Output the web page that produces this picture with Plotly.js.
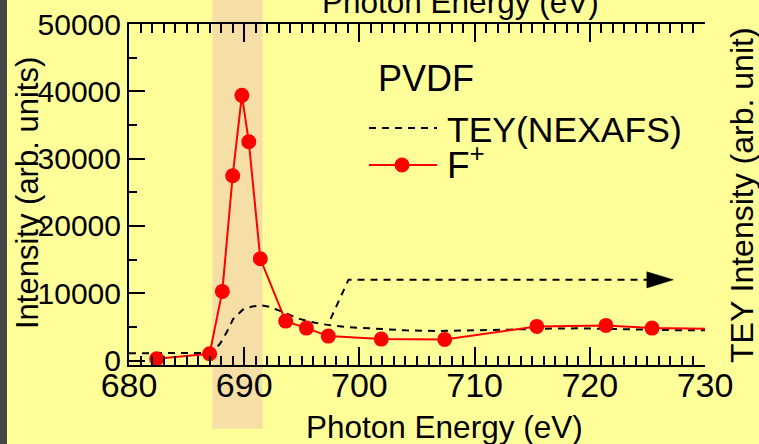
<!DOCTYPE html>
<html>
<head>
<meta charset="utf-8">
<script src="https://cdn.plot.ly/plotly-3.0.1.min.js"></script>
<style>
  html, body { margin: 0; padding: 0; background: #ffff99; }
  #chart { width: 759px; height: 444px; }
</style>
</head>
<body>
<div id="chart"></div>
<script>
// F+ ion yield (left axis, counts)
const energyF = [682.4, 687.0, 688.1, 689.0, 689.8, 690.4, 691.4, 693.6, 695.4, 697.3, 701.9, 707.4, 715.4, 721.4, 725.4, 732.0];
const intensityF = [270, 1010, 10280, 27460, 39400, 32510, 15130, 5870, 4830, 3640, 3200, 3150, 5080, 5230, 4830, 4680];

// Total electron yield NEXAFS spectrum (right axis, arb. units)
const energyTEY = [680, 684, 686.5, 687.3, 687.9, 688.5, 689.05, 689.9, 690.7, 691.5, 692.2, 692.8, 693.8, 694.8, 695.7, 696.6, 697.7, 698.9, 700.3, 701.8, 704, 707, 710, 713, 716, 719, 722, 725, 728, 730];
const teyValues = [1100, 1100, 1150, 1400, 2500, 4300, 6200, 7600, 8050, 8200, 8000, 7600, 6900, 6200, 5800, 5470, 5200, 4980, 4850, 4730, 4500, 4400, 4450, 4600, 4750, 4800, 4700, 4550, 4500, 4500];

// Dashed pointer from the TEY curve toward its axis
const arrowEnergy = [697.5, 699.05, 725.2];
const arrowLevel = [6200, 12000, 12000];
const arrowTip = 727.25;

// Highlighted F 1s resonance window
const bandFrom = 687.23;
const bandTo = 691.6;

const xTickValues = [680, 690, 700, 710, 720, 730];
const xTickText = ['680', '690', '700', '710', '720', '730'];

const FONT = 'Liberation Sans, Arial, Helvetica, sans-serif';
const BG = '#ffff99';

const headLen = 2.3, headHalf = 1200;
const headX = [arrowTip - headLen, arrowTip, arrowTip - headLen, arrowTip - headLen];
const lastY = arrowLevel[arrowLevel.length - 1];
const headY = [lastY + headHalf, lastY, lastY - headHalf, lastY + headHalf];

const traces = [
  {
    x: energyTEY, y: teyValues, type: 'scatter', mode: 'lines',
    line: { color: '#000000', width: 2, dash: '7px,6px' },
    hoverinfo: 'x+y', showlegend: false
  },
  {
    x: arrowEnergy, y: arrowLevel, type: 'scatter', mode: 'lines',
    line: { color: '#000000', width: 2, dash: '7px,6px' },
    hoverinfo: 'skip', showlegend: false
  },
  {
    x: headX, y: headY, type: 'scatter', mode: 'lines', fill: 'toself',
    fillcolor: '#000000', line: { color: '#000000', width: 0.5 },
    hoverinfo: 'skip', showlegend: false
  },
  {
    x: energyF, y: intensityF, type: 'scatter', mode: 'lines+markers',
    line: { color: '#ff0000', width: 2 },
    marker: { color: '#ff0000', size: 15 },
    hoverinfo: 'x+y', showlegend: false
  }
];

// plot area: 129..705 px horizontally, 24..365 px vertically
const px = v => (v - 129) / 576;
const py = v => (365 - v) / 341;

const layout = {
  width: 759, height: 444,
  margin: { l: 129, r: 54, t: 24, b: 79, pad: 0 },
  paper_bgcolor: BG, plot_bgcolor: BG,
  font: { family: FONT, color: '#000000' },
  showlegend: false,
  xaxis: {
    range: [680, 730], showgrid: false, zeroline: false,
    showline: true, linecolor: '#000000', linewidth: 2, mirror: 'ticks',
    ticks: 'inside', ticklen: 18, tickwidth: 2, tickcolor: '#000000',
    tickvals: xTickValues, ticktext: xTickText, ticklabelstandoff: -11,
    tickfont: { family: FONT, size: 34, color: '#000000' },
    minor: { dtick: 1, ticks: 'inside', ticklen: 9, tickwidth: 2, tickcolor: '#000000', showgrid: false }
  },
  yaxis: {
    range: [-650, 50000], showgrid: false, zeroline: false,
    showline: true, linecolor: '#000000', linewidth: 2,
    ticks: 'inside', ticklen: 16, tickwidth: 2, tickcolor: '#000000',
    dtick: 10000, tick0: 0, tickformat: 'd',
    tickfont: { family: FONT, size: 30, color: '#000000' },
    minor: { dtick: 5000, ticks: 'inside', ticklen: 8, tickwidth: 2, tickcolor: '#000000', showgrid: false }
  },
  yaxis2: {
    overlaying: 'y', side: 'right', anchor: 'x',
    range: [-650, 50000], showgrid: false, zeroline: false,
    showline: true, linecolor: '#000000', linewidth: 2,
    ticks: 'inside', ticklen: 17, tickwidth: 2, tickcolor: '#000000',
    dtick: 5000, tick0: 0, showticklabels: false
  },
  shapes: [
    { type: 'rect', xref: 'x', yref: 'paper', x0: bandFrom, x1: bandTo, y0: py(428.7), y1: 1.2,
      fillcolor: '#f6dfa6', line: { width: 0 }, layer: 'below' },
    { type: 'rect', xref: 'paper', yref: 'paper', x0: -0.4, x1: px(7), y0: -1, y1: 2,
      fillcolor: '#464646', line: { width: 0 }, layer: 'below' },
    { type: 'line', xref: 'paper', yref: 'paper', x0: px(369), x1: px(437), y0: py(128), y1: py(128),
      line: { color: '#000000', width: 2, dash: '7px,6px' } },
    { type: 'line', xref: 'paper', yref: 'paper', x0: px(369), x1: px(437), y0: py(165), y1: py(165),
      line: { color: '#ff0000', width: 2 } },
    { type: 'circle', xref: 'paper', yref: 'paper', xsizemode: 'pixel', ysizemode: 'pixel',
      xanchor: px(402), yanchor: py(165), x0: -7.5, x1: 7.5, y0: -7.5, y1: 7.5,
      fillcolor: '#ff0000', line: { width: 0 } }
  ],
  annotations: [
    { text: 'PVDF', xref: 'paper', yref: 'paper', x: px(376), y: py(78), xanchor: 'left', yanchor: 'middle',
      showarrow: false, font: { family: FONT, size: 36 } },
    { text: 'TEY(NEXAFS)', xref: 'paper', yref: 'paper', x: px(445), y: py(130), xanchor: 'left', yanchor: 'middle',
      showarrow: false, font: { family: FONT, size: 35.5 } },
    { text: 'F<sup>+</sup>', xref: 'paper', yref: 'paper', x: px(445), y: py(162), xanchor: 'left', yanchor: 'middle',
      showarrow: false, font: { family: FONT, size: 37 } },
    { text: 'Photon Energy (eV)', xref: 'paper', yref: 'paper', x: px(444), y: py(427), xanchor: 'center', yanchor: 'middle',
      showarrow: false, font: { family: FONT, size: 31.5 } },
    { text: 'Photon Energy (eV)', xref: 'paper', yref: 'paper', x: px(460), y: py(2), xanchor: 'center', yanchor: 'middle',
      showarrow: false, font: { family: FONT, size: 31.5 } },
    { text: 'Intensity (arb. units)', xref: 'paper', yref: 'paper', x: px(27), y: py(193), xanchor: 'center', yanchor: 'middle',
      textangle: -90, showarrow: false, font: { family: FONT, size: 31 } },
    { text: 'TEY Intensity (arb. unit)', xref: 'paper', yref: 'paper', x: px(742), y: py(195), xanchor: 'center', yanchor: 'middle',
      textangle: -90, showarrow: false, font: { family: FONT, size: 32 } }
  ]
};

Plotly.newPlot('chart', traces, layout, { displayModeBar: false, staticPlot: true });
</script>
</body>
</html>
